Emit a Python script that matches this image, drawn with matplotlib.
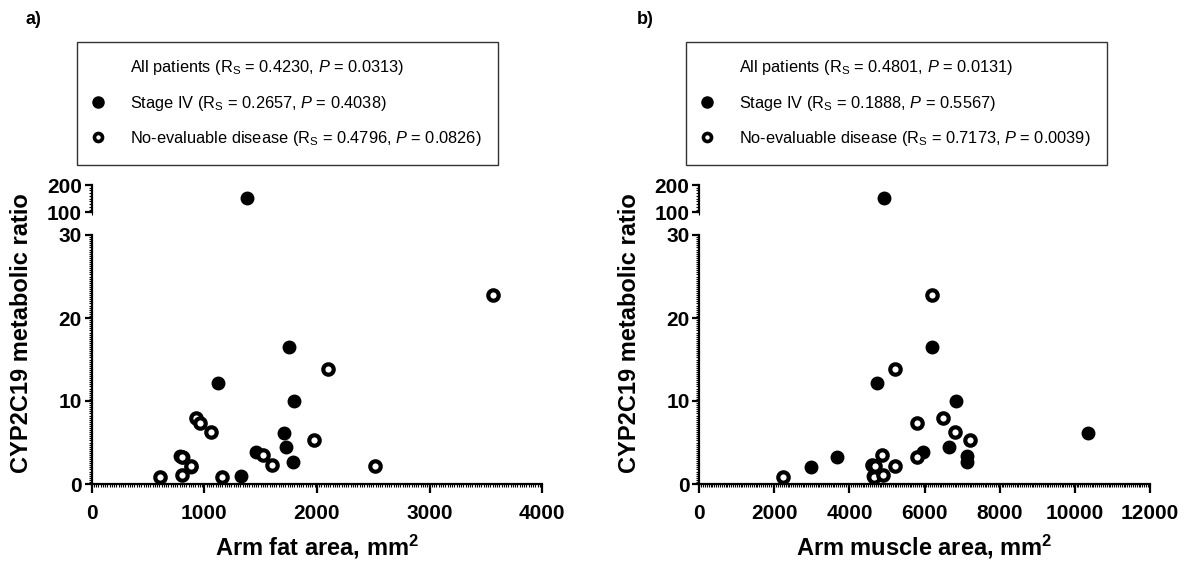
import matplotlib
matplotlib.use('Agg')
import matplotlib.pyplot as plt
from matplotlib.lines import Line2D
from matplotlib.ticker import MultipleLocator

plt.rcParams['font.family'] = ['Liberation Sans', 'DejaVu Sans']
plt.rcParams['mathtext.fontset'] = 'custom'
plt.rcParams['mathtext.rm'] = 'Liberation Sans'
plt.rcParams['mathtext.it'] = 'Liberation Sans:italic'
plt.rcParams['mathtext.bf'] = 'Liberation Sans:bold'

# Stage IV patients (filled circles)
stage4_fat = [1377, 1750, 1125, 1797, 1711, 1729, 1791, 1457, 785, 815, 879, 1324]
stage4_muscle = [4927, 6187, 4723, 6835, 10360, 6658, 7119, 5965, 7119, 3675, 2983, 4640]
stage4_ratio = [154, 16.5, 12.2, 10.0, 6.1, 4.5, 2.6, 3.8, 3.4, 3.2, 2.1, 0.95]

# No-evaluable disease patients (open circles)
noeval_fat = [3562, 2099, 927, 962, 1057, 1978, 1519, 800, 1605, 2514, 880, 607, 1155, 799]
noeval_muscle = [6205, 5202, 6489, 5806, 6800, 7208, 4865, 5788, 4598, 5220, 4680, 2219, 4660, 4900]
noeval_ratio = [22.8, 13.9, 8.0, 7.35, 6.3, 5.3, 3.5, 3.2, 2.25, 2.13, 2.2, 0.88, 0.9, 1.1]

panels = [
    dict(tag='a)', x4=stage4_fat, xn=noeval_fat, xmax=4000, xstep=1000, xminor=20,
         xlabel='Arm fat area, mm$^{\\mathbf{2}}$',
         stats=[('0.4230', '0.0313'), ('0.2657', '0.4038'), ('0.4796', '0.0826')]),
    dict(tag='b)', x4=stage4_muscle, xn=noeval_muscle, xmax=12000, xstep=2000, xminor=50,
         xlabel='Arm muscle area, mm$^{\\mathbf{2}}$',
         stats=[('0.4801', '0.0131'), ('0.1888', '0.5567'), ('0.7173', '0.0039')]),
]

W, H = 1190, 565
fig = plt.figure(figsize=(W / 100, H / 100), dpi=100)

def px(x0, y0, x1, y1):
    # pixel box -> figure fraction rect
    return [x0 / W, 1 - y1 / H, (x1 - x0) / W, (y1 - y0) / H]

lefts = [91.7, 699.3]
ylabel_x = [22, 630]
tag_x = [25, 637]
box_x = [77, 686]

for i, p in enumerate(panels):
    x0 = lefts[i]
    x1 = x0 + 450.5
    ax_lo = fig.add_axes(px(x0, 235, x1, 484))
    ax_hi = fig.add_axes(px(x0, 185, x1, 212.3))

    for ax in (ax_lo, ax_hi):
        ax.plot(p['x4'], stage4_ratio, 'o', color='black', markersize=9,
                linestyle='none')
        ax.plot(p['xn'], noeval_ratio, 'o', markerfacecolor='white',
                markeredgecolor='black', markeredgewidth=3.0, markersize=7.5,
                linestyle='none')
        ax.set_xlim(0, p['xmax'])
        for s in ('top', 'right'):
            ax.spines[s].set_visible(False)
        ax.spines['left'].set_linewidth(1.6)
        ax.tick_params(axis='both', which='major', direction='out', length=5,
                       width=1.6, labelsize=15, pad=2)
        ax.tick_params(axis='both', which='minor', direction='out', length=2.2,
                       width=0.8)

    ax_lo.set_ylim(0, 30)
    ax_lo.set_yticks([0, 10, 20, 30])
    ax_lo.yaxis.set_minor_locator(MultipleLocator(0.25))
    ax_lo.set_xticks(range(0, p['xmax'] + 1, p['xstep']))
    ax_lo.xaxis.set_minor_locator(MultipleLocator(p['xminor']))
    ax_lo.spines['bottom'].set_linewidth(1.6)
    ax_lo.tick_params(axis='x', which='major', length=6.5, pad=8)
    for lab in ax_lo.get_xticklabels() + ax_lo.get_yticklabels():
        lab.set_fontweight('bold')
    ax_lo.set_xlabel(p['xlabel'], fontsize=17, fontweight='bold', labelpad=7)

    ax_hi.set_ylim(100, 200)
    ax_hi.set_yticks([100, 200])
    ax_hi.yaxis.set_minor_locator(MultipleLocator(10))
    ax_hi.spines['bottom'].set_visible(False)
    ax_hi.set_xticks([])
    ax_hi.xaxis.set_minor_locator(MultipleLocator(1e9))
    ax_hi.patch.set_alpha(0)
    for lab in ax_hi.get_yticklabels():
        lab.set_fontweight('bold')

    fig.text(ylabel_x[i] / W, 1 - 333 / H, 'CYP2C19 metabolic ratio', rotation=90,
             fontsize=17, fontweight='bold', ha='center', va='center')
    fig.text(tag_x[i] / W, 1 - 20 / H, p['tag'], fontsize=13, fontweight='bold',
             ha='left', va='center')

    names = ['All patients', 'Stage IV', 'No-evaluable disease']
    labels = ['%s (R$_{\\rm S}$ = %s, $\\it{P}$ = %s)' % (n, r, pv)
              for n, (r, pv) in zip(names, p['stats'])]
    handles = [
        Line2D([], [], linestyle='none'),
        Line2D([], [], marker='o', color='black', markersize=8, linestyle='none'),
        Line2D([], [], marker='o', markerfacecolor='white', markeredgecolor='black',
               markeredgewidth=2.6, markersize=5.8, linestyle='none'),
    ]
    leg = fig.legend(handles, labels, loc='upper left',
                     bbox_to_anchor=(box_x[i] / W, 1 - 42 / H), borderaxespad=0,
                     fontsize=11.8, frameon=True, fancybox=False, edgecolor='black',
                     borderpad=1.0, handlelength=0.6, handletextpad=1.65,
                     labelspacing=1.0)
    leg.get_frame().set_linewidth(1.0)

fig.savefig('out.png', dpi=100)
